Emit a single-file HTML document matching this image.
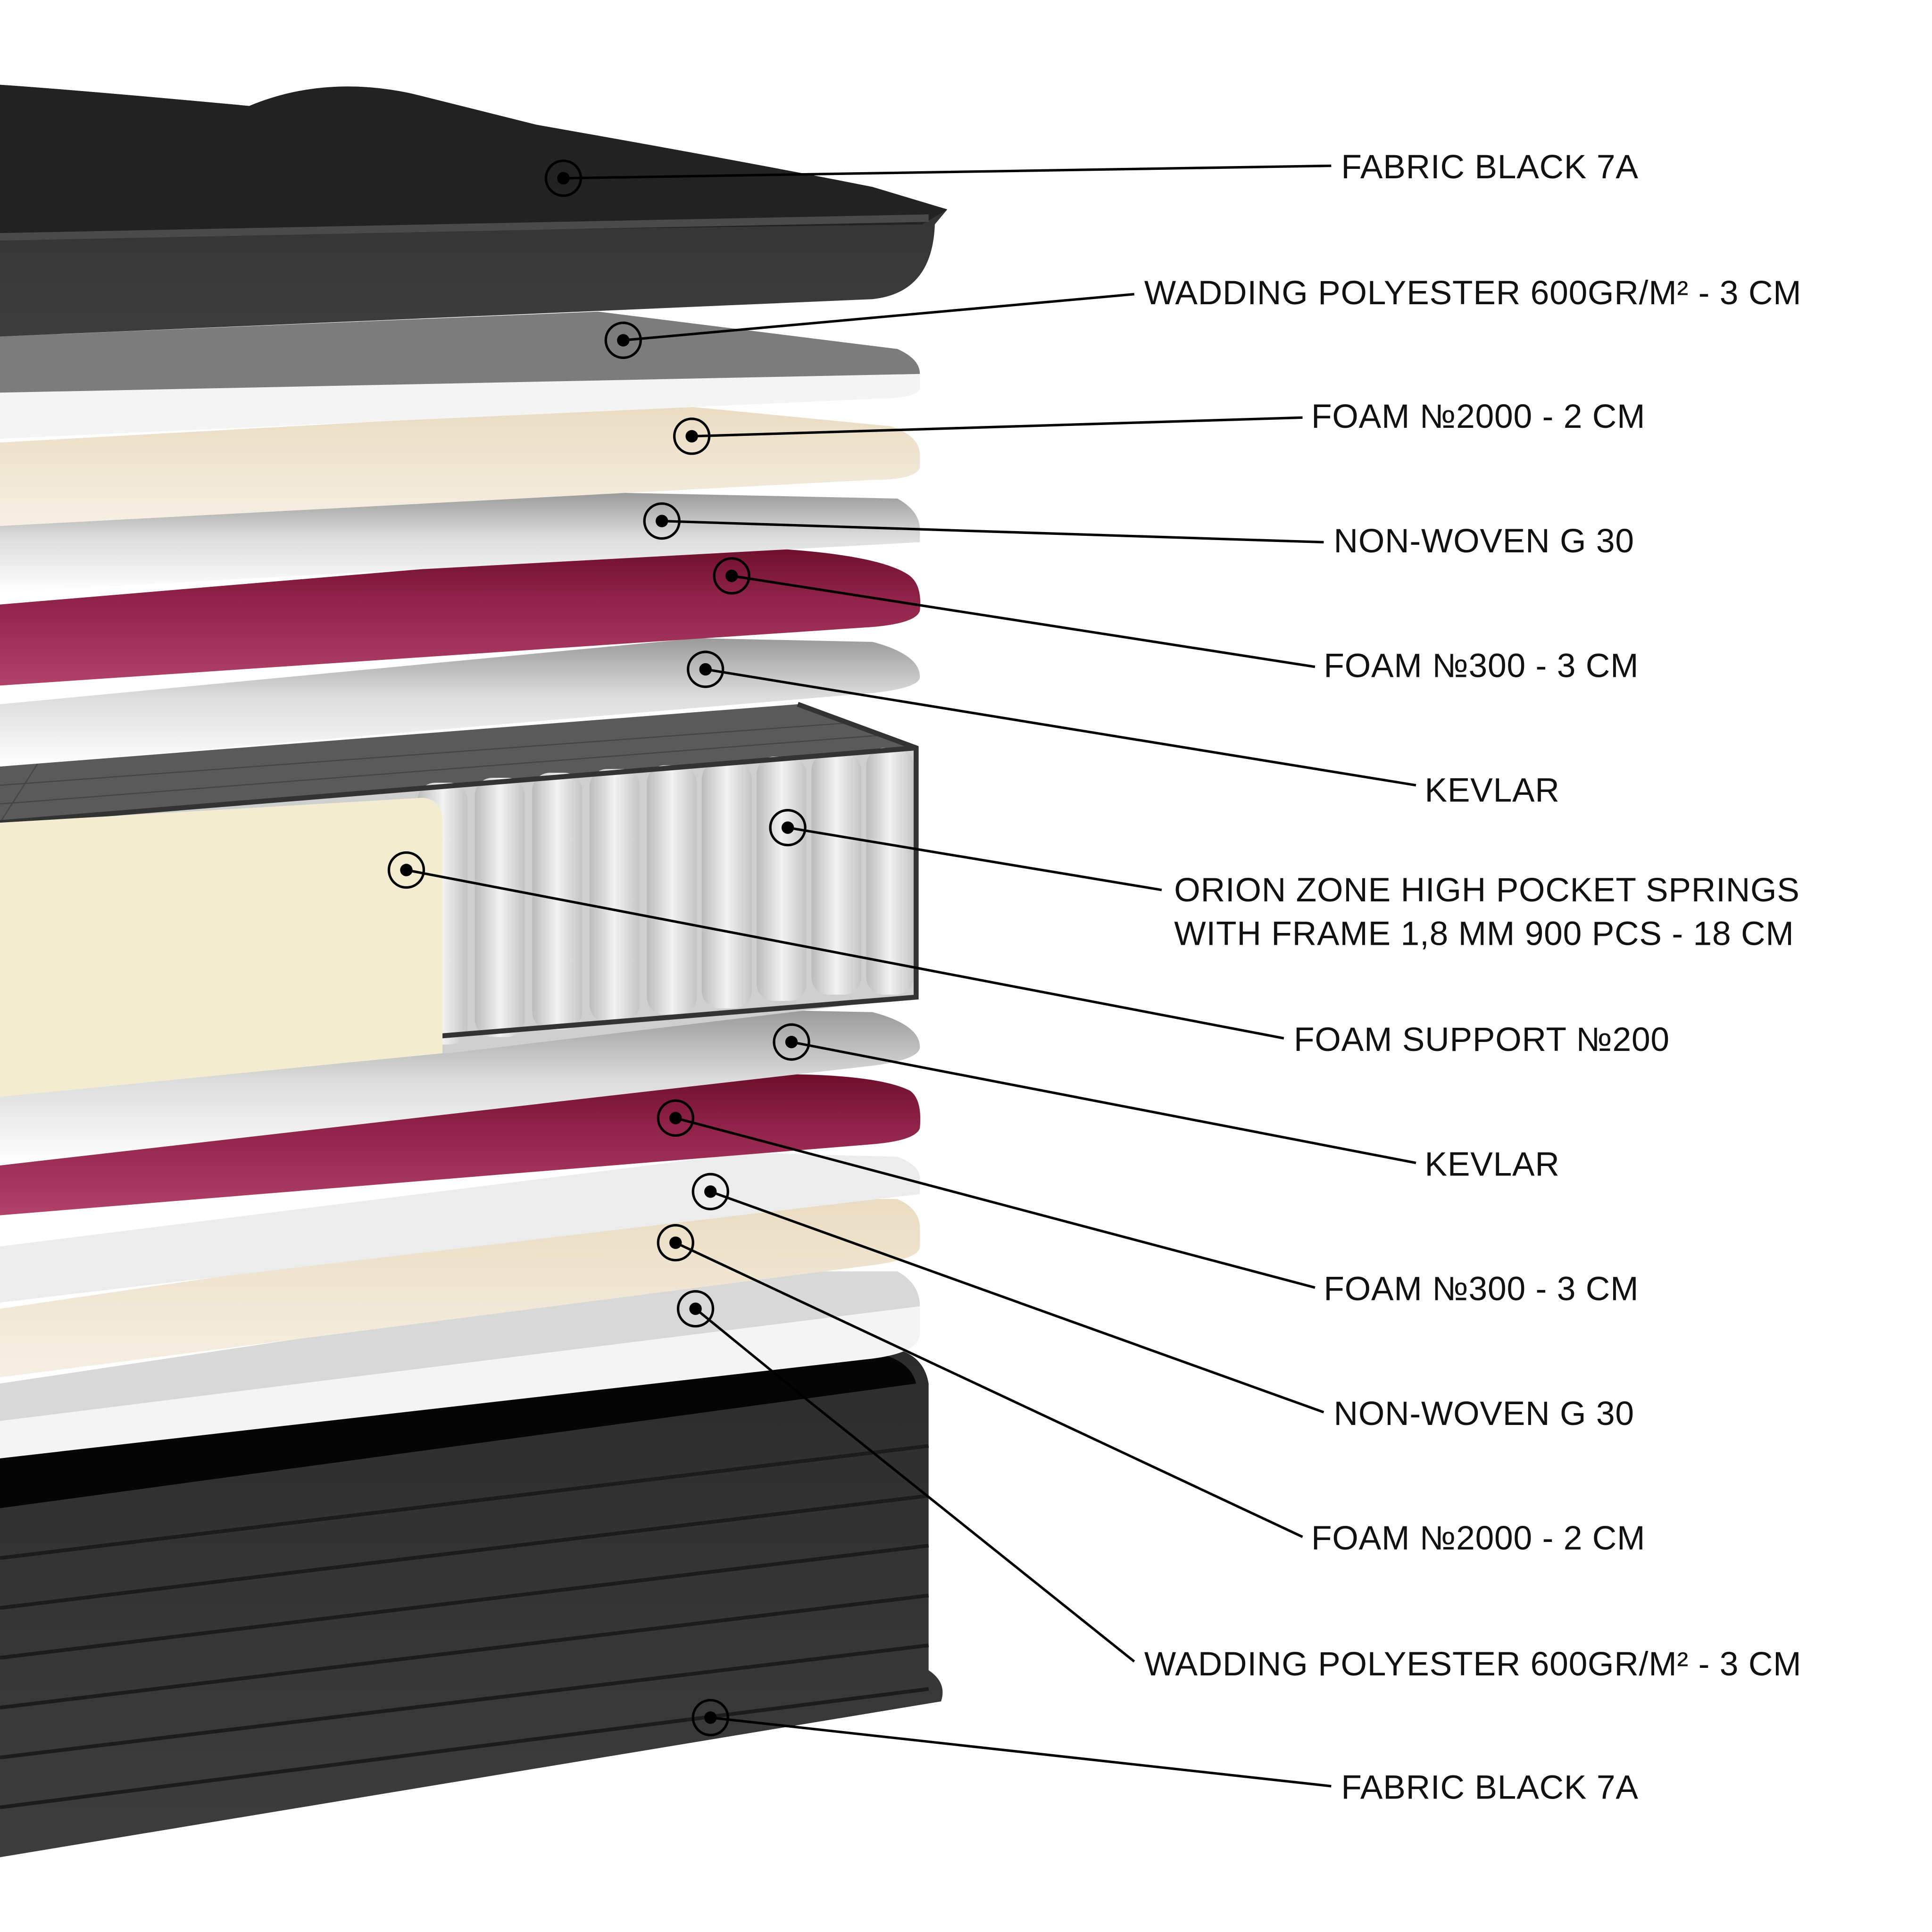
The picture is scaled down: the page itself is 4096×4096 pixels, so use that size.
<!DOCTYPE html>
<html><head><meta charset="utf-8"><style>
html,body{margin:0;padding:0;background:#fff;width:4096px;height:4096px;overflow:hidden}
svg{display:block}
text{font-family:"Liberation Sans","DejaVu Sans",sans-serif;font-size:27px;fill:#111;dominant-baseline:middle;letter-spacing:0.3px}
</style></head><body>
<svg width="4096" height="4096" viewBox="0 0 1550 1550" xmlns="http://www.w3.org/2000/svg">
<defs>
<linearGradient id="crim" x1="0" y1="0" x2="0" y2="1"><stop offset="0" stop-color="#6e0f2c"/><stop offset="0.35" stop-color="#8e2148"/><stop offset="1" stop-color="#b1426a"/></linearGradient>
<linearGradient id="beige" x1="0" y1="0" x2="0" y2="1"><stop offset="0" stop-color="#eadcc2"/><stop offset="1" stop-color="#f6efe3"/></linearGradient>
<linearGradient id="gray" x1="0" y1="0" x2="0" y2="1"><stop offset="0" stop-color="#9a9a9a"/><stop offset="0.45" stop-color="#dcdcdc"/><stop offset="1" stop-color="#ffffff"/></linearGradient>
<linearGradient id="spring" x1="0" y1="0" x2="1" y2="0"><stop offset="0" stop-color="#bcbcbc"/><stop offset="0.5" stop-color="#f2f2f2"/><stop offset="1" stop-color="#c4c4c4"/></linearGradient>
<linearGradient id="side" x1="0" y1="0" x2="0" y2="1"><stop offset="0" stop-color="#2c2c2c"/><stop offset="1" stop-color="#3d3d3d"/></linearGradient>
</defs>

<!-- bottom fabric -->
<path d="M0 1170 L700 1080 Q740 1080 745 1110 L745 1340 Q760 1350 755 1365 L0 1490 Z" fill="url(#side)"/>
<path d="M0 1170 L700 1085 Q730 1090 735 1110 L0 1210 Z" fill="#050505"/>
<g stroke="#1c1c1c" stroke-width="3" fill="none">
<path d="M0 1250 L745 1160"/><path d="M0 1290 L745 1200"/><path d="M0 1330 L745 1240"/><path d="M0 1370 L745 1280"/><path d="M0 1410 L745 1320"/><path d="M0 1450 L745 1355"/>
</g>
<!-- wadding bottom -->
<path d="M0 1110 L600 1020 L720 1020 Q738 1030 738 1050 L738 1070 Q738 1085 700 1090 L0 1170 Z" fill="#f4f4f4"/>
<path d="M0 1110 L600 1020 L720 1020 Q738 1030 738 1048 L0 1140 Z" fill="#d8d8d8"/>
<!-- foam 2000 bottom -->
<path d="M0 1050 L600 962 L720 962 Q738 970 738 985 L738 1000 Q738 1010 700 1015 L0 1105 Z" fill="url(#beige)"/>
<!-- nonwoven bottom -->
<path d="M0 1000 L600 925 L720 928 Q738 935 738 945 L738 958 L0 1045 Z" fill="#ececec"/>
<!-- foam 300 bottom -->
<path d="M0 925 L600 862 Q700 860 730 875 Q740 882 738 905 Q735 915 700 918 L0 975 Z" fill="url(#crim)"/>
<!-- kevlar bottom -->
<path d="M0 875 L600 810 L700 812 Q738 822 738 840 Q738 850 700 855 L0 935 Z" fill="url(#gray)"/>

<!-- springs block -->
<path d="M0 615 L640 565 L735 600 L735 800 L360 845 L0 860 Z" fill="#cfcfcf"/>
<path d="M0 615 L640 565 L735 600 L0 660 Z" fill="#5a5a5a"/>
<g stroke="#3a3a3a" stroke-width="1" opacity="0.6">
<path d="M0 630 L680 580"/><path d="M0 645 L705 590"/><path d="M30 613 L0 660"/>
</g>
<g fill="url(#spring)">
<rect x="335" y="628" width="40" height="210" rx="14"/>
<rect x="381" y="624" width="40" height="208" rx="14"/>
<rect x="427" y="620" width="40" height="206" rx="14"/>
<rect x="473" y="617" width="40" height="203" rx="14"/>
<rect x="519" y="614" width="40" height="200" rx="14"/>
<rect x="563" y="611" width="40" height="198" rx="14"/>
<rect x="607" y="607" width="40" height="196" rx="14"/>
<rect x="651" y="604" width="40" height="194" rx="14"/>
<rect x="695" y="600" width="38" height="198" rx="14"/>
</g>
<path d="M0 660 L735 600 M0 860 L735 800 L735 600 L640 565" stroke="#333" stroke-width="4" fill="none"/>
<path d="M0 660 L340 640 Q355 642 355 660 L355 845 L0 880 Z" fill="#f3ecd0"/>

<!-- kevlar top -->
<path d="M0 565 L560 512 L700 515 Q738 525 738 543 Q738 552 700 556 L0 615 Z" fill="url(#gray)"/>
<!-- foam 300 top -->
<path d="M0 485 L560 438 Q700 440 730 462 Q740 470 738 490 Q735 500 700 503 L0 550 Z" fill="url(#crim)"/>
<!-- nonwoven top -->
<path d="M0 420 L480 395 L720 400 Q738 410 738 425 L738 435 L0 475 Z" fill="url(#gray)"/>
<!-- foam 2000 top -->
<path d="M0 355 L540 325 L715 342 Q738 350 738 365 L738 375 Q735 385 700 385 L0 422 Z" fill="url(#beige)"/>
<!-- wadding top -->
<path d="M0 270 L480 250 L720 280 Q738 288 738 300 L738 312 Q735 320 700 320 L0 352 Z" fill="#f4f4f4"/>
<path d="M0 270 L480 250 L720 280 Q738 288 738 300 L0 315 Z" fill="#7c7c7c"/>
<!-- top fabric -->
<path d="M0 68 Q60 72 200 85 Q260 60 330 75 L430 100 Q600 130 700 150 L760 168 L750 180 Q748 235 700 240 L0 270 Z" fill="url(#side)"/>
<path d="M0 68 Q60 72 200 85 Q260 60 330 75 L430 100 Q600 130 700 150 L760 168 L740 180 L0 190 Z" fill="#222"/>
<path d="M0 190 L745 175" stroke="#4a4a4a" stroke-width="6"/>

<!-- leader lines -->
<g stroke="#000" stroke-width="2" fill="none">
<path d="M452 143 L1068 133"/>
<path d="M500 273 L910 236"/>
<path d="M555 350 L1045 335"/>
<path d="M531 418 L1062 435"/>
<path d="M587 462 L1055 535"/>
<path d="M566 537 L1136 630"/>
<path d="M632 664 L932 714"/>
<path d="M326 698 L1030 833"/>
<path d="M635 836 L1136 933"/>
<path d="M542 897 L1055 1033"/>
<path d="M570 956 L1062 1133"/>
<path d="M542 997 L1045 1233"/>
<path d="M558 1050 L650 1125 L910 1333"/>
<path d="M570 1378 L1068 1433"/>
</g>
<g>
<g fill="none" stroke="#000" stroke-width="2">
<circle cx="452" cy="143" r="14"/><circle cx="500" cy="273" r="14"/><circle cx="555" cy="350" r="14"/><circle cx="531" cy="418" r="14"/><circle cx="587" cy="462" r="14"/><circle cx="566" cy="537" r="14"/><circle cx="632" cy="664" r="14"/><circle cx="326" cy="698" r="14"/><circle cx="635" cy="836" r="14"/><circle cx="542" cy="897" r="14"/><circle cx="570" cy="956" r="14"/><circle cx="542" cy="997" r="14"/><circle cx="558" cy="1050" r="14"/><circle cx="570" cy="1378" r="14"/>
</g>
<g fill="#000">
<circle cx="452" cy="143" r="5"/><circle cx="500" cy="273" r="5"/><circle cx="555" cy="350" r="5"/><circle cx="531" cy="418" r="5"/><circle cx="587" cy="462" r="5"/><circle cx="566" cy="537" r="5"/><circle cx="632" cy="664" r="5"/><circle cx="326" cy="698" r="5"/><circle cx="635" cy="836" r="5"/><circle cx="542" cy="897" r="5"/><circle cx="570" cy="956" r="5"/><circle cx="542" cy="997" r="5"/><circle cx="558" cy="1050" r="5"/><circle cx="570" cy="1378" r="5"/>
</g>
</g>

<text x="1076" y="136">FABRIC BLACK 7A</text>
<text x="918" y="237">WADDING POLYESTER 600GR/M² - 3 CM</text>
<text x="1052" y="336">FOAM №2000 - 2 CM</text>
<text x="1070" y="436">NON-WOVEN G 30</text>
<text x="1062" y="536">FOAM №300 - 3 CM</text>
<text x="1143" y="636">KEVLAR</text>
<text x="942" y="716">ORION ZONE HIGH POCKET SPRINGS</text>
<text x="942" y="751">WITH FRAME 1,8 MM 900 PCS - 18 CM</text>
<text x="1038" y="836">FOAM SUPPORT №200</text>
<text x="1143" y="936">KEVLAR</text>
<text x="1062" y="1036">FOAM №300 - 3 CM</text>
<text x="1070" y="1136">NON-WOVEN G 30</text>
<text x="1052" y="1236">FOAM №2000 - 2 CM</text>
<text x="918" y="1337">WADDING POLYESTER 600GR/M² - 3 CM</text>
<text x="1076" y="1436">FABRIC BLACK 7A</text>
</svg>
</body></html>
